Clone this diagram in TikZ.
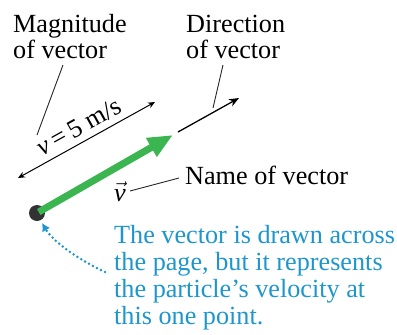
\documentclass[tikz,border=0pt]{standalone}
\usepackage{fontspec}
\setmainfont{Liberation Serif}
\usetikzlibrary{arrows.meta}
\definecolor{vgreen}{RGB}{58,181,80}
\definecolor{nblue}{RGB}{30,150,205}
\definecolor{dotgray}{RGB}{50,50,52}
\begin{document}
\begin{tikzpicture}[x=1pt,y=-1pt,
  lbl/.style={font=\fontsize{26.2}{26}\selectfont, inner sep=0pt, align=left, anchor=base west},
  leader/.style={line width=0.9pt, black!85},
  thinarrow/.style={line width=1.3pt, -{Stealth[length=10pt,width=8pt]}},
  dblarrow/.style={line width=1pt, {Stealth[length=7pt,width=6pt]}-{Stealth[length=7pt,width=6pt]}},
  vecarrow/.style={line width=7pt, vgreen, -{Triangle[length=25pt,width=20pt]}, shorten <=2pt},
  dotarrow/.style={nblue, line width=2.8pt, line cap=round, dash pattern=on 0pt off 4.5pt, -{Latex[length=8pt,width=9pt]}}
]
\useasboundingbox (0,0) rectangle (397,335);
% particle
\node[circle, fill=dotgray, minimum size=16pt, inner sep=0pt] (p) at (37,213) {};
\coordinate (gtip) at (173,135);
\draw[vecarrow] (p.center) -- (gtip);
% direction arrow
\coordinate (ds) at (178,132);
\coordinate (de) at (239,98);
\draw[thinarrow] (ds) -- (de);
% magnitude double arrow
\coordinate (ml) at (18,178);
\coordinate (mr) at (155,102);
\draw[dblarrow] (ml) -- node[midway, sloped, above=6pt, font=\fontsize{26.2}{26}\selectfont, inner sep=0pt] (vlab) {\textit{v}\,=\,5 m/s} (mr);
% labels (base anchor of a multi-line node = last line)
\node[lbl] (mag) at (13,58) {Magnitude\\of vector};
\node[lbl] (dir) at (186,58) {Direction\\of vector};
\node[lbl] (name) at (185,184) {Name of vector};
\node[lbl, anchor=base] (vname) at (120,201) {$\vec{\textit{v}}$};
\node[lbl, text=nblue, font=\fontsize{26.2}{27}\selectfont] (note) at (114,324) {The vector is drawn across\\the page, but it represents\\the particle’s velocity at\\this one point.};
% leaders
\coordinate (magl1) at (63,65);
\coordinate (magl2) at (37,135);
\draw[leader] (magl1) -- (magl2);
\coordinate (dirl1) at (223,65);
\coordinate (dirl2) at (213,108);
\draw[leader] (dirl1) -- (dirl2);
\coordinate (namel1) at (179,178);
\coordinate (namel2) at (130,191);
\draw[leader] (namel1) -- (namel2);
% dotted pointer
\coordinate (ds0) at (105,272);
\coordinate (dt) at (42,223);
\draw[dotarrow] (ds0) .. controls (75,258) and (52,240) .. (dt);
\end{tikzpicture}
\end{document}
